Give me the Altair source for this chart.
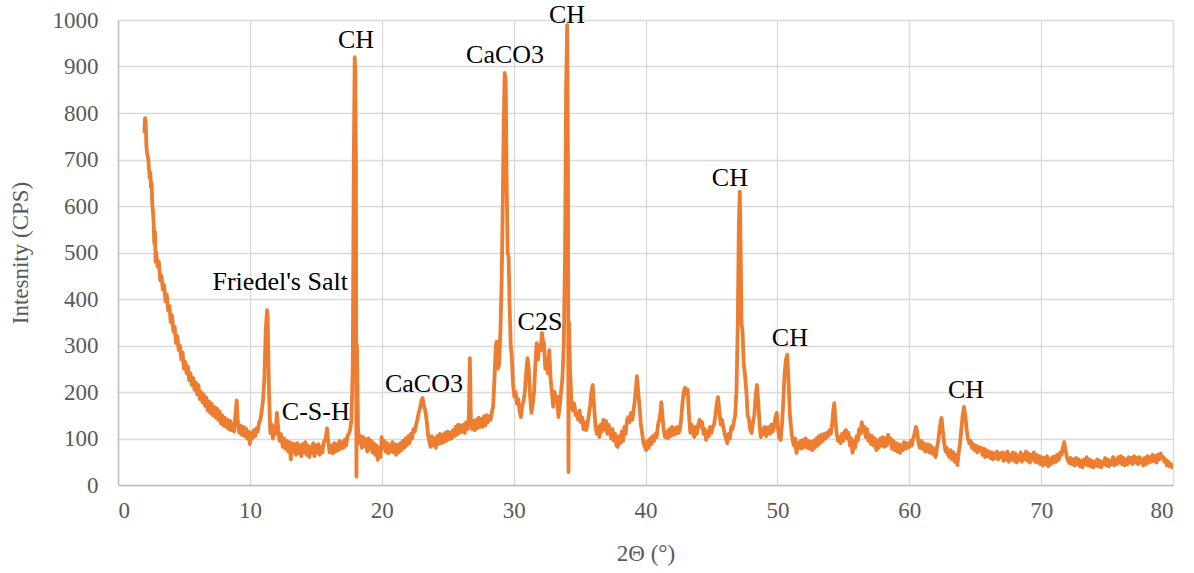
import altair as alt
import pandas as pd

# XRD scan, 2-theta (deg) vs intensity (CPS), read in four stretches
scan_02_17 = [
    (2.00, 760), (2.05, 789), (2.10, 780), (2.15, 730), (2.20, 715), (2.30, 700), (2.40, 660),
    (2.45, 672), (2.50, 640), (2.55, 650), (2.60, 600), (2.65, 590), (2.70, 565), (2.75, 520),
    (2.80, 545), (2.85, 480), (2.90, 500), (3.00, 470), (3.10, 480), (3.20, 440), (3.30, 450),
    (3.40, 420), (3.50, 430), (3.60, 395), (3.70, 410), (3.80, 375), (3.90, 385), (4.00, 350),
    (4.10, 365), (4.20, 330), (4.30, 340), (4.40, 305), (4.50, 320), (4.60, 290), (4.70, 300),
    (4.80, 270), (4.90, 285), (5.00, 250), (5.10, 265), (5.20, 240), (5.30, 255), (5.40, 225),
    (5.50, 240), (5.60, 215), (5.70, 230), (5.80, 205), (5.90, 220), (6.00, 195), (6.10, 215),
    (6.20, 185), (6.30, 200), (6.40, 178), (6.50, 195), (6.60, 170), (6.70, 188), (6.80, 160),
    (6.90, 180), (7.00, 155), (7.10, 175), (7.20, 150), (7.30, 168), (7.40, 145), (7.50, 165),
    (7.60, 140), (7.70, 158), (7.80, 132), (7.90, 150), (8.00, 128), (8.10, 145), (8.20, 125),
    (8.30, 140), (8.40, 120), (8.50, 138), (8.60, 118), (8.70, 132), (8.80, 115), (8.90, 150),
    (9.00, 182), (9.10, 130), (9.20, 112), (9.30, 128), (9.40, 108), (9.50, 125), (9.60, 105),
    (9.70, 122), (9.80, 100), (9.90, 115), (10.00, 88), (10.10, 112), (10.20, 100), (10.30, 118),
    (10.40, 105), (10.50, 122), (10.60, 115), (10.70, 135), (10.80, 140), (10.90, 160),
    (11.00, 183), (11.10, 230), (11.20, 330), (11.30, 376), (11.35, 360), (11.45, 200),
    (11.55, 112), (11.65, 130), (11.75, 100), (11.85, 125), (11.95, 110), (12.05, 155),
    (12.15, 120), (12.25, 95), (12.35, 110), (12.50, 82), (12.60, 100), (12.70, 78), (12.80, 95),
    (12.90, 72), (13.00, 92), (13.10, 55), (13.20, 90), (13.30, 70), (13.40, 88), (13.50, 65),
    (13.60, 90), (13.70, 68), (13.80, 85), (13.90, 62), (14.00, 88), (14.10, 70), (14.20, 92),
    (14.30, 65), (14.40, 85), (14.50, 60), (14.60, 82), (14.70, 68), (14.80, 90), (14.90, 62),
    (15.00, 85), (15.10, 70), (15.20, 88), (15.30, 65), (15.40, 82), (15.50, 70), (15.60, 92),
    (15.75, 100), (15.85, 122), (15.95, 90), (16.05, 70), (16.20, 85), (16.30, 68), (16.40, 90),
    (16.50, 72), (16.60, 88), (16.70, 75), (16.80, 95), (16.90, 78),
]

scan_17_35 = [
    (17.00, 92), (17.10, 80), (17.20, 98), (17.30, 85), (17.40, 105), (17.50, 110), (17.60, 118),
    (17.70, 140), (17.80, 250), (17.88, 700), (17.95, 920), (18.00, 880), (18.04, 700),
    (18.08, 18), (18.12, 300), (18.20, 120), (18.30, 90), (18.40, 105), (18.50, 80), (18.60, 103),
    (18.70, 85), (18.80, 98), (18.90, 72), (19.00, 100), (19.10, 78), (19.20, 95), (19.30, 70),
    (19.40, 90), (19.50, 65), (19.60, 85), (19.70, 54), (19.80, 80), (19.90, 60), (20.00, 103),
    (20.10, 80), (20.20, 95), (20.30, 72), (20.40, 90), (20.50, 68), (20.60, 85), (20.70, 72),
    (20.80, 92), (20.90, 70), (21.00, 88), (21.10, 65), (21.20, 86), (21.30, 70), (21.40, 90),
    (21.50, 75), (21.60, 95), (21.70, 80), (21.80, 100), (21.90, 85), (22.00, 105), (22.10, 90),
    (22.20, 110), (22.30, 100), (22.40, 120), (22.50, 115), (22.60, 130), (22.70, 140),
    (22.80, 155), (22.90, 165), (23.00, 180), (23.10, 187), (23.20, 170), (23.30, 160),
    (23.40, 140), (23.50, 110), (23.60, 95), (23.70, 82), (23.80, 105), (23.90, 85), (24.00, 100),
    (24.10, 80), (24.20, 105), (24.30, 88), (24.40, 110), (24.50, 90), (24.60, 108), (24.70, 92),
    (24.80, 112), (24.90, 95), (25.00, 115), (25.10, 98), (25.20, 112), (25.30, 100),
    (25.40, 118), (25.50, 105), (25.60, 125), (25.70, 108), (25.80, 130), (25.90, 112),
    (26.00, 128), (26.10, 115), (26.20, 130), (26.30, 112), (26.40, 135), (26.50, 120),
    (26.60, 140), (26.68, 273), (26.76, 140), (26.85, 120), (26.95, 138), (27.05, 118),
    (27.15, 140), (27.25, 122), (27.35, 145), (27.45, 125), (27.55, 142), (27.65, 125),
    (27.75, 148), (27.85, 128), (27.95, 150), (28.05, 135), (28.15, 148), (28.25, 140),
    (28.35, 155), (28.45, 170), (28.55, 230), (28.65, 300), (28.72, 308), (28.80, 250),
    (28.90, 260), (29.00, 330), (29.10, 450), (29.18, 613), (29.25, 780), (29.32, 886),
    (29.40, 870), (29.47, 650), (29.55, 500), (29.62, 490), (29.70, 380), (29.78, 300),
    (29.86, 275), (29.95, 220), (30.05, 190), (30.15, 200), (30.25, 175), (30.35, 185),
    (30.45, 160), (30.55, 146), (30.65, 170), (30.75, 180), (30.85, 200), (30.95, 240),
    (31.05, 273), (31.15, 250), (31.25, 190), (31.35, 155), (31.45, 175), (31.55, 200),
    (31.65, 260), (31.75, 305), (31.85, 270), (31.95, 300), (32.05, 290), (32.15, 327),
    (32.22, 310), (32.30, 305), (32.40, 250), (32.50, 270), (32.60, 240), (32.70, 290),
    (32.80, 230), (32.90, 200), (33.00, 168), (33.10, 200), (33.20, 180), (33.30, 190),
    (33.40, 146), (33.50, 170), (33.60, 200), (33.70, 230), (33.80, 300), (33.90, 500),
    (33.98, 850), (34.06, 989), (34.12, 700), (34.16, 28), (34.20, 350), (34.28, 250),
    (34.38, 180), (34.50, 160), (34.60, 175), (34.70, 150), (34.80, 155), (34.90, 140),
]

scan_35_58 = [
    (35.00, 160), (35.10, 135), (35.20, 145), (35.30, 120), (35.40, 135), (35.50, 118),
    (35.60, 130), (35.70, 150), (35.80, 170), (35.90, 200), (36.00, 215), (36.10, 170),
    (36.20, 130), (36.30, 110), (36.40, 125), (36.50, 103), (36.60, 130), (36.70, 115),
    (36.80, 140), (36.90, 120), (37.00, 138), (37.10, 110), (37.20, 130), (37.30, 118),
    (37.40, 100), (37.50, 120), (37.60, 95), (37.70, 110), (37.80, 85), (37.90, 82), (38.00, 105),
    (38.10, 90), (38.20, 115), (38.30, 95), (38.40, 125), (38.50, 110), (38.60, 140), (38.70, 146),
    (38.80, 135), (38.90, 155), (39.00, 140), (39.10, 160), (39.20, 185), (39.30, 215),
    (39.35, 234), (39.45, 200), (39.55, 168), (39.65, 130), (39.75, 110), (39.85, 90), (39.95, 82),
    (40.05, 75), (40.15, 95), (40.25, 80), (40.35, 100), (40.45, 88), (40.55, 105), (40.65, 95),
    (40.75, 110), (40.85, 103), (40.95, 130), (41.05, 140), (41.15, 160), (41.20, 178),
    (41.28, 150), (41.38, 120), (41.48, 103), (41.60, 115), (41.70, 100), (41.80, 120),
    (41.90, 105), (42.00, 125), (42.10, 108), (42.20, 122), (42.30, 110), (42.40, 125),
    (42.50, 112), (42.60, 118), (42.70, 140), (42.80, 175), (42.90, 200), (43.00, 209),
    (43.10, 195), (43.20, 205), (43.30, 150), (43.40, 112), (43.50, 130), (43.60, 115),
    (43.70, 103), (43.80, 125), (43.90, 110), (44.00, 130), (44.10, 140), (44.20, 125),
    (44.30, 135), (44.40, 110), (44.50, 120), (44.60, 97), (44.70, 115), (44.80, 105),
    (44.90, 125), (45.00, 112), (45.10, 125), (45.20, 130), (45.30, 150), (45.40, 175),
    (45.50, 189), (45.60, 160), (45.70, 130), (45.80, 140), (45.90, 125), (46.00, 110),
    (46.10, 100), (46.20, 90), (46.30, 110), (46.40, 100), (46.50, 125), (46.60, 120),
    (46.70, 135), (46.80, 150), (46.90, 200), (47.00, 350), (47.08, 560), (47.15, 631),
    (47.22, 500), (47.28, 348), (47.36, 330), (47.45, 260), (47.55, 235), (47.65, 200),
    (47.75, 150), (47.85, 140), (47.95, 118), (48.05, 112), (48.15, 135), (48.25, 150),
    (48.35, 190), (48.45, 215), (48.55, 180), (48.65, 130), (48.75, 103), (48.85, 120),
    (48.95, 110), (49.05, 125), (49.15, 105), (49.25, 120), (49.35, 125), (49.45, 110),
    (49.55, 130), (49.65, 115), (49.75, 125), (49.85, 145), (49.95, 155), (50.05, 120),
    (50.15, 100), (50.25, 97), (50.35, 130), (50.45, 180), (50.55, 240), (50.65, 270),
    (50.75, 280), (50.85, 220), (50.95, 150), (51.05, 120), (51.15, 97), (51.25, 85),
    (51.35, 100), (51.45, 69), (51.55, 90), (51.65, 80), (51.75, 95), (51.85, 78), (51.95, 97),
    (52.05, 82), (52.15, 100), (52.25, 80), (52.35, 95), (52.45, 78), (52.55, 92), (52.65, 75),
    (52.75, 95), (52.85, 80), (52.95, 100), (53.05, 85), (53.15, 105), (53.25, 90), (53.35, 108),
    (53.45, 95), (53.55, 110), (53.65, 100), (53.75, 112), (53.85, 105), (53.95, 118),
    (54.05, 110), (54.15, 130), (54.25, 165), (54.32, 176), (54.40, 140), (54.50, 110),
    (54.60, 95), (54.70, 103), (54.80, 90), (54.90, 110), (55.00, 95), (55.10, 115), (55.20, 118),
    (55.30, 100), (55.40, 112), (55.50, 85), (55.60, 100), (55.70, 69), (55.80, 95), (55.90, 80),
    (56.00, 105), (56.10, 95), (56.20, 120), (56.30, 110), (56.40, 135), (56.50, 115),
    (56.60, 125), (56.70, 103), (56.80, 120), (56.90, 95), (57.00, 108), (57.10, 88),
    (57.20, 105), (57.30, 85), (57.40, 100), (57.50, 75), (57.60, 95), (57.70, 80), (57.80, 100),
    (57.90, 85),
]

scan_58_80 = [
    (58.00, 103), (58.10, 82), (58.20, 100), (58.30, 85), (58.40, 108), (58.50, 90), (58.60, 100),
    (58.70, 78), (58.80, 95), (58.90, 75), (59.00, 90), (59.10, 72), (59.20, 88), (59.30, 69),
    (59.40, 85), (59.50, 75), (59.60, 92), (59.70, 78), (59.80, 90), (59.90, 80), (60.00, 82),
    (60.10, 95), (60.20, 85), (60.30, 100), (60.40, 110), (60.50, 125), (60.60, 115), (60.70, 90),
    (60.80, 80), (60.90, 95), (61.00, 78), (61.10, 90), (61.20, 72), (61.30, 75), (61.40, 88),
    (61.50, 70), (61.60, 85), (61.70, 68), (61.80, 80), (61.90, 65), (62.00, 60), (62.10, 80),
    (62.20, 95), (62.30, 120), (62.40, 140), (62.45, 144), (62.55, 115), (62.65, 90), (62.75, 72),
    (62.85, 80), (62.95, 65), (63.05, 60), (63.15, 75), (63.25, 55), (63.35, 70), (63.45, 50),
    (63.55, 65), (63.65, 43), (63.75, 70), (63.85, 90), (63.95, 120), (64.05, 150), (64.15, 168),
    (64.25, 150), (64.35, 120), (64.45, 100), (64.55, 90), (64.65, 95), (64.75, 80), (64.85, 88),
    (64.95, 75), (65.05, 85), (65.15, 70), (65.25, 82), (65.35, 75), (65.45, 80), (65.55, 65),
    (65.65, 78), (65.75, 60), (65.85, 75), (65.95, 62), (66.05, 72), (66.15, 58), (66.25, 70),
    (66.35, 55), (66.45, 68), (66.55, 58), (66.65, 72), (66.75, 55), (66.85, 68), (66.95, 60),
    (67.05, 70), (67.15, 52), (67.25, 68), (67.35, 55), (67.45, 72), (67.55, 50), (67.65, 65),
    (67.75, 55), (67.85, 70), (67.95, 52), (68.05, 68), (68.15, 48), (68.25, 62), (68.35, 54),
    (68.45, 70), (68.55, 50), (68.65, 65), (68.75, 55), (68.85, 72), (68.95, 52), (69.05, 68),
    (69.15, 48), (69.25, 65), (69.35, 55), (69.45, 70), (69.55, 50), (69.65, 65), (69.75, 48),
    (69.85, 62), (69.95, 45), (70.05, 60), (70.15, 42), (70.25, 58), (70.35, 45), (70.45, 62),
    (70.55, 40), (70.65, 55), (70.75, 45), (70.85, 60), (70.95, 48), (71.05, 62), (71.15, 50),
    (71.25, 65), (71.35, 55), (71.45, 70), (71.55, 65), (71.65, 80), (71.75, 92), (71.85, 75),
    (71.95, 60), (72.05, 52), (72.15, 47), (72.25, 58), (72.35, 45), (72.45, 55), (72.55, 42),
    (72.65, 58), (72.75, 45), (72.85, 55), (72.95, 40), (73.05, 52), (73.15, 38), (73.25, 55),
    (73.35, 45), (73.45, 60), (73.55, 42), (73.65, 55), (73.75, 40), (73.85, 52), (73.95, 38),
    (74.05, 50), (74.15, 42), (74.25, 55), (74.35, 40), (74.45, 52), (74.55, 38), (74.65, 50),
    (74.75, 45), (74.85, 58), (74.95, 42), (75.05, 55), (75.15, 40), (75.25, 52), (75.35, 45),
    (75.45, 60), (75.55, 42), (75.65, 55), (75.75, 45), (75.85, 60), (75.95, 48), (76.05, 62),
    (76.15, 45), (76.25, 58), (76.35, 42), (76.45, 55), (76.55, 45), (76.65, 60), (76.75, 48),
    (76.85, 58), (76.95, 45), (77.05, 62), (77.15, 50), (77.25, 58), (77.35, 45), (77.45, 60),
    (77.55, 48), (77.65, 55), (77.75, 42), (77.85, 58), (77.95, 45), (78.05, 62), (78.15, 48),
    (78.25, 60), (78.35, 50), (78.45, 65), (78.55, 52), (78.65, 62), (78.75, 48), (78.85, 65),
    (78.95, 55), (79.05, 68), (79.15, 58), (79.25, 60), (79.35, 50), (79.45, 55), (79.55, 42),
    (79.65, 50), (79.75, 40), (79.85, 45), (79.95, 38),
]

# Phase labels and where they sit (2-theta, intensity)
phase_names = ["Friedel's Salt", "C-S-H", "CH", "CaCO3", "CaCO3", "C2S", "CH", "CH", "CH", "CH"]
phase_x = [12.3, 15.0, 18.05, 23.2, 29.35, 32.0, 34.05, 46.4, 50.95, 64.3]
phase_y = [437, 157, 957, 217, 925, 350, 1011, 660, 316, 204]

x_ticks = [0, 10, 20, 30, 40, 50, 60, 70, 80]
y_ticks = [0, 100, 200, 300, 400, 500, 600, 700, 800, 900, 1000]

points = scan_02_17 + scan_17_35 + scan_35_58 + scan_58_80
scan = pd.DataFrame(points, columns=["two_theta", "intensity"])
labels = pd.DataFrame({"name": phase_names, "two_theta": phase_x, "intensity": phase_y})

FONT = "Liberation Serif, LiberationSerif, Tinos, Times New Roman, Times, DejaVu Serif, Noto Serif, FreeSerif, serif"
GREY = "#595959"

x_enc = alt.X(
    "two_theta:Q",
    scale=alt.Scale(domain=[0, 80], nice=False),
    axis=alt.Axis(values=x_ticks, title="2Θ (°)", format="d"),
)
y_enc = alt.Y(
    "intensity:Q",
    scale=alt.Scale(domain=[0, 1000], nice=False),
    axis=alt.Axis(values=y_ticks, title="Intesnity (CPS)", format="d"),
)

line = alt.Chart(scan).mark_line(
    color="#ED7D31", strokeWidth=3.8, strokeJoin="round", strokeCap="round", clip=True
).encode(x=x_enc, y=y_enc, order="two_theta:Q")

text = alt.Chart(labels).mark_text(
    font=FONT, fontSize=26, color="#000000", baseline="middle", align="center"
).encode(x="two_theta:Q", y="intensity:Q", text="name:N")

chart = (
    alt.layer(line, text)
    .properties(
        width=1055,
        height=465,
        autosize=alt.AutoSizeParams(type="none"),
        padding={"left": 118, "top": 20, "right": 21, "bottom": 88},
        background="#ffffff",
    )
    .configure_view(stroke=None)
    .configure_axis(
        grid=True,
        gridColor="#d9d9d9",
        gridWidth=1.3,
        domainColor="#bfbfbf",
        domainWidth=1.5,
        ticks=False,
        labelFont=FONT,
        labelFontSize=23,
        labelColor=GREY,
        titleFont=FONT,
        titleFontSize=23,
        titleColor=GREY,
        titleFontWeight="normal",
    )
    .configure_axisX(labelPadding=14, titlePadding=20)
    .configure_axisY(labelPadding=20, titlePadding=20)
)

chart.save("out.html", embed_options={"renderer": "svg", "actions": False})
